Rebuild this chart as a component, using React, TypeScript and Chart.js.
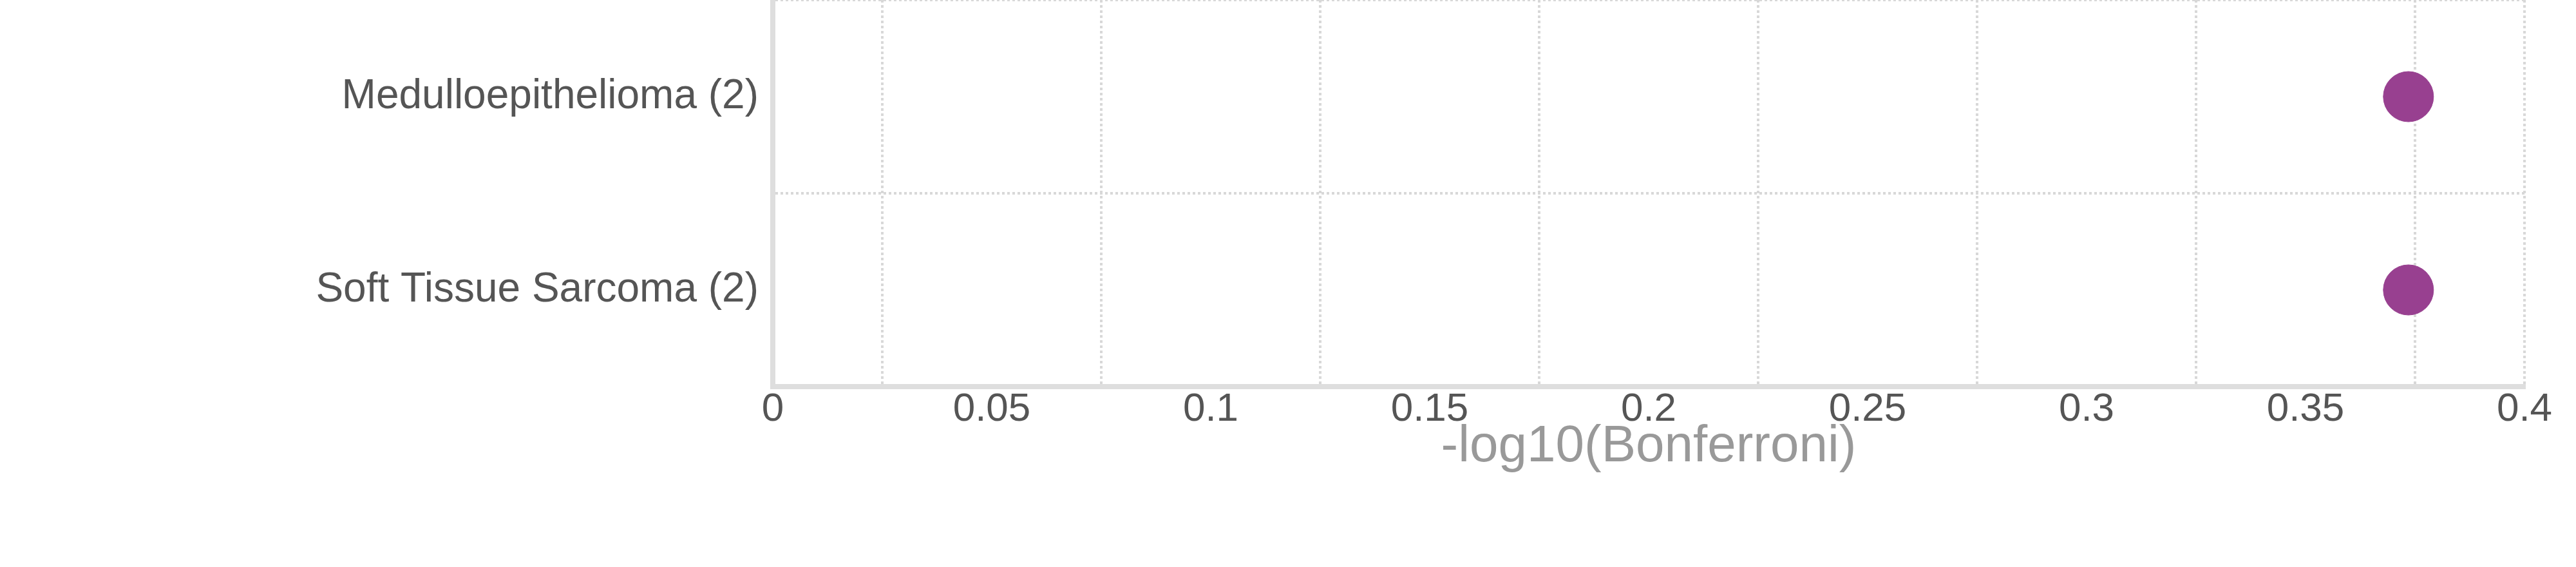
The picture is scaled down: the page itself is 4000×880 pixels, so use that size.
import React, { useEffect, useRef } from "react";
import { Chart, registerables } from "chart.js";

Chart.register(...registerables);

// ---- data ----
const categories: string[] = ["Medulloepithelioma (2)", "Soft Tissue Sarcoma (2)"];
const values: number[] = [0.3735, 0.3735];
const xTickLabels: number[] = [0, 0.05, 0.1, 0.15, 0.2, 0.25, 0.3, 0.35, 0.4];
const xGridValues: number[] = [0.025, 0.075, 0.125, 0.175, 0.225, 0.275, 0.325, 0.375, 0.4];
const xTitle = "-log10(Bonferroni)";

const FONT = "'Liberation Sans', Arial, Helvetica, sans-serif";
const POINT_COLOR = "rgb(152, 64, 144)";
const GRID_COLOR = "#d8d8d8";
const BORDER_COLOR = "#dedede";
const TOP_SHIFT = 62;

const isIn = (list: number[], v: number) =>
  list.some((t) => Math.abs(t - v) < 1e-9);

export default function App() {
  const ref = useRef<HTMLCanvasElement | null>(null);

  useEffect(() => {
    if (!ref.current) return;
    const chart = new Chart(ref.current, {
      type: "line",
      data: {
        labels: categories,
        datasets: [
          {
            data: values,
            showLine: false,
            pointRadius: 39,
            pointHoverRadius: 39,
            pointBackgroundColor: POINT_COLOR,
            pointBorderColor: POINT_COLOR,
            pointBorderWidth: 1,
            backgroundColor: POINT_COLOR,
            borderColor: POINT_COLOR,
          },
        ],
      },
      options: {
        indexAxis: "y",
        responsive: false,
        animation: false,
        devicePixelRatio: 1,
        layout: { padding: { left: 0, right: 80, top: 0, bottom: 0 } },
        plugins: {
          legend: { display: false },
          tooltip: { enabled: false },
        },
        scales: {
          x: {
            type: "linear",
            position: "bottom",
            min: 0,
            max: 0.4,
            afterFit: (scale: any) => {
              scale.height = 280;
            },
            ticks: {
              stepSize: 0.025,
              autoSkip: false,
              maxRotation: 0,
              padding: 0,
              color: "#555555",
              font: { family: FONT, size: 62, lineHeight: 1.15 },
              callback: (v: any) => {
                const n = Number(v);
                return isIn(xTickLabels, n) ? String(Math.round(n * 1000) / 1000) : "";
              },
            },
            grid: {
              drawTicks: false,
              lineWidth: 4,
              color: (ctx: any) => {
                const v = ctx.tick ? ctx.tick.value : null;
                if (v == null) return "transparent";
                return isIn(xGridValues, v) ? GRID_COLOR : "transparent";
              },
            },
            border: { display: true, color: BORDER_COLOR, width: 8, dash: [4, 4] },
            title: {
              display: true,
              text: xTitle,
              color: "#999999",
              font: { family: FONT, size: 80, lineHeight: 1.2 },
              padding: { top: 0, bottom: 138 },
            },
          },
          y: {
            type: "category",
            position: "left",
            offset: true,
            afterFit: (scale: any) => {
              scale.width = 1200;
            },
            ticks: {
              padding: 22,
              color: "#555555",
              font: { family: FONT, size: 64, lineHeight: 1.25 },
            },
            grid: {
              offset: true,
              drawTicks: false,
              lineWidth: 4,
              color: GRID_COLOR,
            },
            border: { display: true, color: BORDER_COLOR, width: 8, dash: [4, 4] },
          },
        },
      },
    } as any);
    return () => chart.destroy();
  }, []);

  return (
    <div
      style={{
        position: "absolute",
        left: 0,
        top: -TOP_SHIFT,
        width: 4000,
        height: 880 + TOP_SHIFT,
        background: "#ffffff",
      }}
    >
      <canvas
        ref={ref}
        width={4000}
        height={880 + TOP_SHIFT}
        style={{ display: "block", width: 4000, height: 880 + TOP_SHIFT }}
      />
    </div>
  );
}
